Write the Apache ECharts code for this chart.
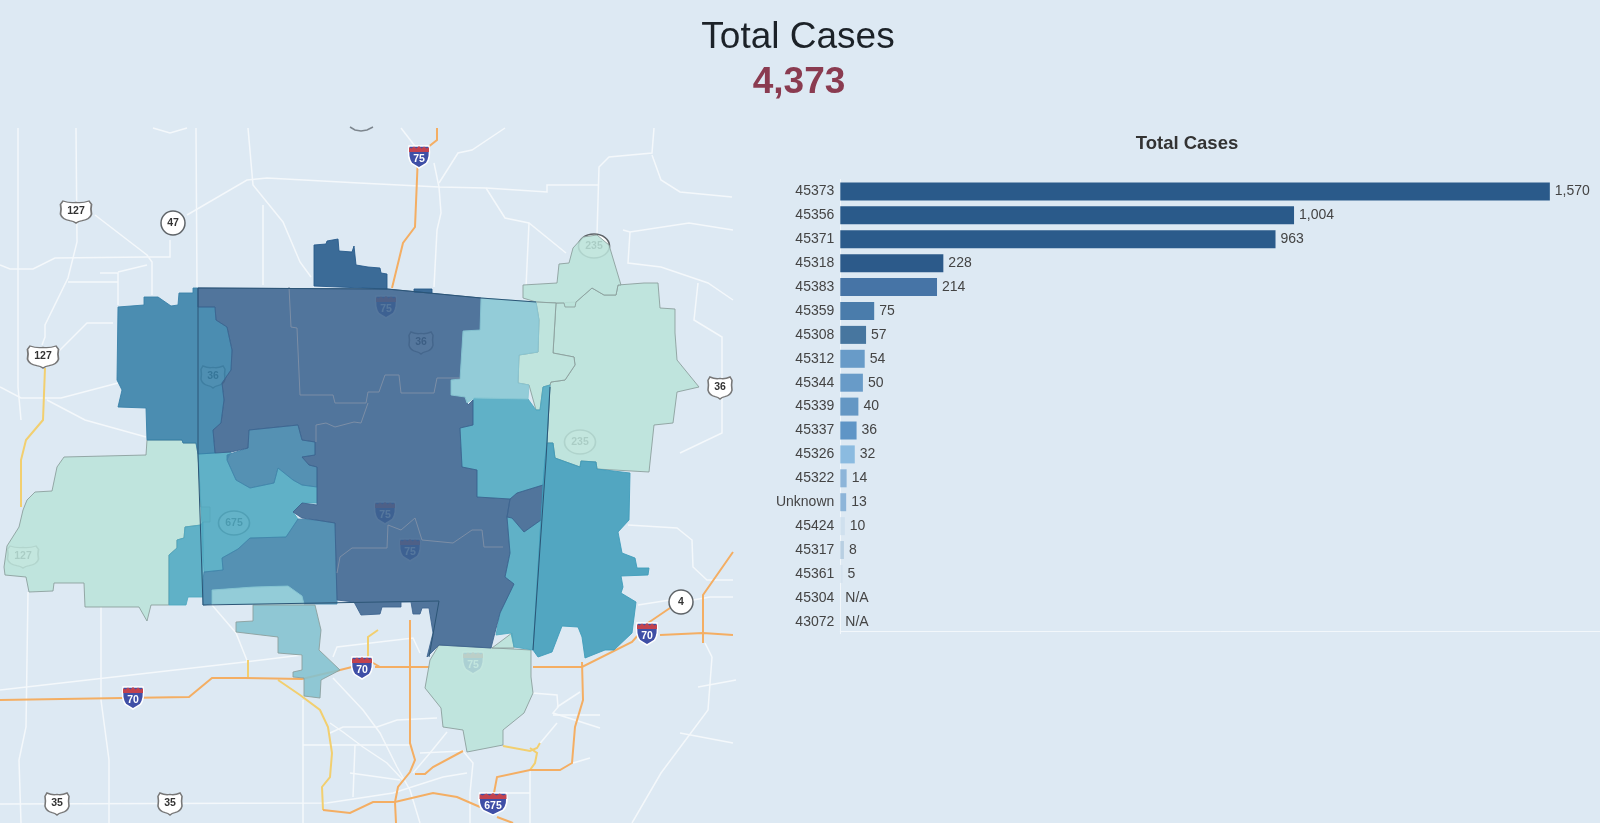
<!DOCTYPE html>
<html lang="en">
<head>
<meta charset="utf-8">
<title>Total Cases</title>
<script src="https://cdn.jsdelivr.net/npm/echarts@6/dist/echarts.min.js"></script>
<style>
    html, body { margin: 0; padding: 0; background: #dde9f3; }
    #chartMain { width: 1600px; height: 823px; }
</style>
</head>
<body>
<div id="chartMain"></div>
<script>
    // bar chart
    var zipCodes = ['45373','45356','45371','45318','45383','45359','45308','45312','45344','45339','45337','45326','45322','Unknown','45424','45317','45361','45304','43072'];
    var caseCounts = [1570,1004,963,228,214,75,57,54,50,40,36,32,14,13,10,8,5,null,null];
    var barColors = ['#2a5a8a','#2a5a8a','#2b5b8b','#2c5a8a','#4674a6','#4a7cab','#47769f','#689bc8','#689bc8','#6497c4','#5f95c6','#8bbbe0','#8db5d9','#8db5d9','#cfe0ee','#b8cfe2','#d5e3ef','#dde9f3','#dde9f3'];
    var totalCases = '4,373';

    // zip outlines in map units
    var westBig = [[64,457],[146,455],[147,440],[182,440],[183,443],[196,443],[198,454],[201,507],[210,507],[210,522],[203,522],[201,525],[185,527],[184,538],[177,540],[177,548],[169,555],[169,605],[151,605],[147,621],[139,607],[85,607],[84,583],[54,583],[53,591],[29,592],[26,577],[5,575],[4,567],[7,546],[19,527],[23,510],[27,500],[35,492],[52,491],[57,467]];
    var westTeal = [[201,525],[185,527],[184,538],[177,540],[177,548],[169,555],[169,605],[186,605],[188,597],[203,597],[203,522]];
    var westBlue = [[118,307],[144,305],[144,297],[158,297],[171,306],[178,305],[179,293],[193,293],[193,288],[198,288],[198,307],[215,307],[216,320],[227,327],[232,350],[231,370],[222,383],[224,400],[221,423],[213,430],[215,453],[198,454],[196,443],[183,443],[182,440],[147,440],[146,408],[118,407],[122,390],[117,380]];
    var northTab = [[314,245],[326,244],[327,241],[338,239],[339,251],[352,252],[354,246],[356,265],[368,267],[369,268],[380,268],[381,273],[387,274],[387,289],[314,286]];
    var northTabSmall = [[414,289],[432,289],[432,293],[414,292]];
    var mainDark = [[198,288],[387,289],[481,298],[480,330],[463,331],[460,379],[451,380],[451,395],[465,397],[468,405],[473,400],[473,425],[460,428],[462,467],[477,470],[477,497],[510,499],[507,517],[510,553],[505,577],[514,584],[500,613],[491,648],[439,645],[427,657],[433,633],[429,608],[422,608],[420,614],[413,614],[411,602],[401,602],[401,607],[382,607],[380,614],[361,615],[354,602],[337,600],[335,523],[316,520],[302,518],[293,512],[302,503],[317,505],[317,467],[309,465],[302,457],[315,455],[315,442],[302,440],[298,425],[249,430],[248,448],[231,452],[215,453],[213,430],[221,423],[224,400],[222,383],[231,370],[232,350],[227,327],[216,320],[215,307],[198,307]];
    var darkSpot = [[510,499],[517,493],[543,485],[541,520],[524,532],[512,518],[507,517]];
    var midBlue = [[249,430],[298,425],[302,440],[315,442],[315,455],[302,457],[309,465],[317,467],[317,487],[302,485],[293,480],[278,468],[274,483],[250,488],[236,480],[227,460],[227,455],[248,448]];
    var innerTeal = [[198,454],[215,453],[231,452],[227,460],[236,480],[250,488],[274,483],[278,468],[293,480],[302,485],[317,487],[317,503],[302,503],[293,512],[298,519],[286,537],[250,538],[238,549],[222,558],[223,570],[204,572],[202,527]];
    var southBlue = [[223,570],[222,558],[238,549],[250,538],[286,537],[298,519],[316,520],[335,523],[337,604],[304,604],[302,596],[288,586],[253,587],[212,590],[212,604],[203,605],[203,580],[204,572]];
    var boxLight = [[212,590],[253,587],[288,586],[302,596],[304,604],[212,604]];
    var southLight = [[253,605],[315,605],[321,630],[319,650],[340,670],[321,680],[320,698],[304,696],[304,678],[293,677],[293,672],[302,670],[302,655],[278,653],[278,637],[236,632],[236,622],[253,621]];
    var northEast = [[481,298],[536,302],[539,320],[538,352],[519,355],[518,383],[529,385],[528,399],[474,398],[467,403],[465,397],[451,395],[451,380],[460,379],[463,331],[480,330]];
    var eastTeal = [[474,398],[528,399],[536,410],[540,410],[543,387],[550,385],[547,443],[545,460],[543,485],[517,493],[510,499],[477,497],[477,470],[462,467],[460,428],[473,425],[473,400]];
    var lightStrip = [[536,302],[556,303],[553,353],[574,357],[575,365],[565,380],[551,382],[550,385],[543,387],[540,410],[536,410],[529,385],[518,383],[519,355],[538,352],[539,320]];
    var eastBig = [[556,303],[576,302],[592,288],[604,295],[616,295],[618,285],[644,283],[658,283],[660,308],[675,309],[675,333],[677,360],[699,387],[677,392],[673,423],[654,425],[649,472],[597,469],[596,462],[581,461],[580,467],[555,458],[553,443],[547,443],[550,385],[551,382],[565,380],[575,365],[574,357],[553,353]];
    var northLight = [[523,285],[557,283],[559,264],[569,263],[573,248],[583,237],[597,235],[609,245],[621,285],[618,285],[616,295],[604,295],[592,288],[576,302],[575,307],[565,307],[564,303],[556,303],[536,302],[523,298]];
    var farEast = [[547,443],[553,443],[555,458],[580,467],[581,461],[596,462],[597,469],[630,473],[629,520],[618,532],[622,553],[635,558],[637,568],[649,568],[648,575],[621,576],[623,587],[621,593],[636,602],[632,633],[614,650],[605,650],[585,658],[582,637],[578,627],[562,626],[552,652],[538,657],[533,650],[541,520],[543,485],[545,460]];
    var seTeal = [[512,518],[524,532],[541,520],[533,650],[514,647],[511,633],[496,635],[500,613],[514,584],[505,577],[510,553],[507,517]];
    var seSpot = [[492,648],[512,633],[514,648]];
    var bottomGreen = [[439,645],[531,650],[531,677],[533,693],[524,713],[503,730],[503,745],[467,752],[463,730],[443,727],[441,708],[425,688],[430,660]];

    // roads
    var whiteRoads = [
        [[76,128],[77,242],[68,278],[45,325],[45,337],[42,345]],
        [[18,128],[18,387],[21,420]],
        [[196,128],[197,288]],
        [[248,128],[253,185],[283,222],[300,262],[311,277]],
        [[187,215],[247,180],[267,178],[359,183],[439,187],[486,188],[547,192],[547,185],[599,185]],
        [[153,128],[170,133],[187,128]],
        [[654,128],[652,153],[609,157],[599,167],[597,235]],
        [[652,155],[661,180],[680,192],[732,197]],
        [[434,163],[439,187],[441,213],[437,230],[434,287]],
        [[439,183],[458,153],[472,150],[505,128]],
        [[401,128],[418,150]],
        [[486,188],[505,218],[529,223],[566,253]],
        [[529,223],[526,287]],
        [[263,205],[263,285]],
        [[0,265],[10,269],[33,269],[55,258],[148,257],[170,257],[170,240]],
        [[95,215],[147,255],[152,262],[152,295]],
        [[100,273],[118,273],[118,305]],
        [[68,282],[118,282]],
        [[118,272],[147,265]],
        [[0,387],[21,398],[61,398],[118,383]],
        [[47,400],[85,420],[146,437]],
        [[113,323],[87,323],[55,355]],
        [[623,230],[630,232],[689,223],[733,230]],
        [[630,232],[628,263],[661,267],[708,283],[733,300]],
        [[698,283],[694,320],[722,337],[722,433],[680,453]],
        [[0,690],[245,662],[302,655]],
        [[212,605],[236,633],[248,663]],
        [[28,592],[26,727],[19,760],[21,823]],
        [[101,607],[101,700],[109,760],[109,823]],
        [[0,804],[327,803],[393,793],[443,777],[467,773]],
        [[333,657],[337,647],[413,638],[420,653]],
        [[333,678],[363,710],[380,733],[397,767],[410,790],[420,823]],
        [[330,723],[343,732],[363,747],[387,763],[403,780]],
        [[330,733],[343,727],[377,727],[397,720],[437,718]],
        [[303,745],[410,745]],
        [[355,745],[353,797]],
        [[303,700],[303,823]],
        [[350,773],[400,780]],
        [[447,732],[430,753],[413,773]],
        [[420,753],[463,751],[473,763],[470,793],[470,823]],
        [[503,793],[530,793]],
        [[530,770],[530,823]],
        [[532,693],[557,695],[558,707],[553,713],[600,728]],
        [[580,692],[557,707]],
        [[557,723],[537,747]],
        [[573,763],[590,758]],
        [[553,715],[600,715]],
        [[712,657],[708,710],[661,773],[632,823]],
        [[705,643],[712,657]],
        [[736,680],[698,687]],
        [[680,733],[733,743]],
        [[628,525],[677,528],[692,540],[693,567],[707,580],[733,580]],
        [[638,605],[670,600]],
        [[693,600],[710,597],[733,597]]
    ];
    var orangeRoads = [
        [[437,128],[437,140],[418,155],[415,227],[403,243],[392,288]],
        [[0,700],[123,698],[189,697],[212,678],[245,678],[302,679],[340,670],[352,667]],
        [[375,667],[430,667]],
        [[533,667],[582,667],[632,642],[640,633]],
        [[660,635],[703,633],[733,635]],
        [[645,625],[670,608]],
        [[703,643],[703,595],[733,552]],
        [[410,620],[410,743],[415,760],[410,772],[398,787],[395,802],[396,823]],
        [[323,810],[350,813],[373,802],[395,802],[433,793],[457,797],[480,807]],
        [[582,662],[583,700],[575,727],[572,763],[560,770],[530,770],[497,777],[494,793]],
        [[463,751],[433,767],[425,774],[415,774]],
        [[497,817],[513,823]],
        [[368,660],[380,667]]
    ];
    var yellowRoads = [
        [[45,368],[43,420],[26,440],[21,460],[21,507]],
        [[278,680],[300,695],[320,710],[328,727],[332,753],[330,777],[322,787],[323,810]],
        [[503,746],[530,751],[537,748],[540,743]],
        [[530,748],[537,753],[535,763],[530,770]],
        [[368,660],[368,637],[378,630]],
        [[248,660],[248,678]]
    ];
    var topArc = [[350,127],[355,130],[361,131],[367,130],[373,127]];

    // lines on top of the fills
    var innerBounds = [
        [[289,287],[291,327],[297,328],[300,395],[333,395],[335,403],[366,403],[368,392],[379,392],[385,375],[399,375],[401,393],[434,393],[437,378],[460,378]],
        [[316,442],[316,425],[326,423],[335,427],[354,422],[361,423],[368,403]],
        [[337,573],[340,557],[352,548],[387,548],[388,525],[401,530],[415,518],[422,540],[453,543],[472,530],[482,530],[484,547],[503,547]]
    ];
    var countyLines = [
        [[429,657],[439,601],[203,605],[198,454],[198,288],[387,289],[481,298],[536,302]],
        [[550,387],[546,460],[533,650]]
    ];

    // route markers
    var interstates = [['75',419,157],['70',133,698],['70',362,668],['70',647,634],['675',493,804],['75',386,307],['75',385,513],['75',410,550],['75',473,663]];
    var usRoutes = [['127',76,212],['127',43,357],['36',720,388],['35',57,804],['35',170,804],['36',421,343],['36',213,377],['127',23,557]];
    var stateRoutes = [['47',173,223],['4',681,602],['235',594,246],['235',580,442],['675',234,523]];

    var regionGroups = [
        { color: '#bbe2d9', border: '#8b9e9c', outlines: [westBig, eastBig, northLight, lightStrip, bottomGreen, seSpot] },
        { color: '#4ea8c0', border: '#4ea8c0', outlines: [westTeal, innerTeal, eastTeal, seTeal] },
        { color: '#377fa7', border: '#377fa7', outlines: [westBlue] },
        { color: '#4284aa', border: '#4284aa', outlines: [midBlue, southBlue] },
        { color: '#3d6490', border: '#3d6490', outlines: [mainDark, darkSpot] },
        { color: '#24598a', border: '#24598a', outlines: [northTab, northTabSmall] },
        { color: '#89c7d4', border: '#89c7d4', outlines: [northEast, boxLight] },
        { color: '#84c2cf', border: '#8b9e9c', outlines: [southLight] },
        { color: '#3f9cba', border: '#3f9cba', outlines: [farEast] }
    ];

    var features = [];
    var regionStyles = [];
    regionGroups.forEach(function (group, g) {
        group.outlines.forEach(function (ring, i) {
            var name = 'zip' + g + '_' + i;
            features.push({
                type: 'Feature',
                properties: { name: name },
                geometry: { type: 'Polygon', coordinates: [ring.concat([ring[0]])] }
            });
            regionStyles.push({ name: name, itemStyle: { areaColor: group.color, borderColor: group.border, borderWidth: 1, opacity: 0.88 } });
        });
    });
    echarts.registerMap('zips', { type: 'FeatureCollection', features: features });

    function roadSeries(list, color, width, z) {
        return {
            type: 'lines',
            coordinateSystem: 'geo',
            polyline: true,
            silent: true,
            z: z,
            lineStyle: { color: color, width: width, opacity: 1 },
            data: list.map(function (path) { return { coords: path }; })
        };
    }

    function markerSeries(list, symbol, size, fill, border, textColor, labelOffset) {
        return {
            type: 'scatter',
            coordinateSystem: 'geo',
            silent: true,
            z: 1,
            symbol: symbol,
            symbolSize: function (v) { return v[2].length > 2 ? [size[0] + 7, size[1]] : size; },
            itemStyle: { color: fill, borderColor: border, borderWidth: 1.5, opacity: 1 },
            label: {
                show: true,
                position: 'inside',
                offset: labelOffset,
                formatter: function (p) { return p.value[2]; },
                fontFamily: 'Liberation Sans',
                fontWeight: 'bold',
                fontSize: 10.5,
                color: textColor
            },
            data: list.map(function (m) { return { value: [m[1], m[2], m[0]] }; })
        };
    }

    // the red crown on top of an interstate shield
    function crownSeries(list) {
        return {
            type: 'scatter',
            coordinateSystem: 'geo',
            silent: true,
            z: 1,
            symbol: 'path://M0,100 L0,20 L12,40 L25,10 L37,40 L50,0 L63,40 L75,10 L88,40 L100,20 L100,100Z',
            symbolSize: function (v) { return v[2].length > 2 ? [27, 6] : [20, 6]; },
            symbolOffset: [0, -8],
            itemStyle: { color: '#c2434f', opacity: 1 },
            data: list.map(function (m) { return { value: [m[1], m[2], m[0]] }; })
        };
    }

    var usShield = 'path://M8,4 Q30,14 50,10 Q70,14 92,4 L100,18 Q96,40 100,60 Q95,82 70,88 Q58,90 50,98 Q42,90 30,88 Q5,82 0,60 Q4,40 0,18Z';
    var iShield = 'path://M4,4 L96,4 Q104,55 84,80 Q64,92 50,100 Q36,92 16,80 Q-4,55 4,4Z';

    var myChart = echarts.init(document.getElementById('chartMain'));
    myChart.setOption({
        animation: false,
        backgroundColor: '#dde9f3',
        title: [
            { text: 'Total Cases', left: 798, top: 38, padding: 0, textAlign: 'center', textVerticalAlign: 'middle',
              textStyle: { fontFamily: 'Liberation Sans', fontSize: 37, fontWeight: 'normal', color: '#1c2228' } },
            { text: totalCases, left: 799, top: 83, padding: 0, textAlign: 'center', textVerticalAlign: 'middle',
              textStyle: { fontFamily: 'Liberation Sans', fontSize: 37, fontWeight: 'bold', color: '#8a3b50' } },
            { text: 'Total Cases', left: 1187, top: 144, padding: 0, textAlign: 'center', textVerticalAlign: 'middle',
              textStyle: { fontFamily: 'Liberation Sans', fontSize: 18.5, fontWeight: 'bold', color: '#333' } }
        ],
        geo: {
            map: 'zips',
            z: 2,
            silent: true,
            roam: false,
            left: 0,
            top: 0,
            width: 1600,
            height: 823,
            aspectScale: 1,
            boundingCoords: [[0, 0], [1600, 823]],
            projection: {
                project: function (p) { return p; },
                unproject: function (p) { return p; }
            },
            label: { show: false },
            emphasis: { disabled: true },
            itemStyle: { areaColor: '#bbe2d9', borderColor: '#8b9e9c', borderWidth: 1 },
            regions: regionStyles
        },
        grid: { left: 840.3, top: 179.5, width: 759.7, height: 454.2 },
        xAxis: {
            type: 'value',
            min: 0,
            max: 1681,
            offset: -2.7,
            splitLine: { show: false },
            axisTick: { show: false },
            axisLabel: { show: false },
            axisLine: { show: true, lineStyle: { color: '#f2f7fb', width: 1 } }
        },
        yAxis: {
            type: 'category',
            inverse: true,
            data: zipCodes,
            axisTick: { show: false },
            axisLine: { show: true, lineStyle: { color: '#f2f7fb', width: 1 } },
            axisLabel: { margin: 6, fontFamily: 'Liberation Sans', fontSize: 14, color: '#444' }
        },
        series: [
            roadSeries(whiteRoads, '#f4f8fb', 1.5, 1),
            roadSeries(yellowRoads, '#f2cf6f', 2, 1),
            roadSeries(orangeRoads, '#f4ae63', 2, 1),
            roadSeries([topArc], '#7d868e', 1.5, 1),
            markerSeries(usRoutes, usShield, [24, 22], '#ffffff', '#777777', '#333333', [0, -1]),
            markerSeries(stateRoutes, 'circle', [24, 24], '#ffffff', '#5f6468', '#333333', [0, 0]),
            markerSeries(interstates, iShield, [21, 22], '#3f4fa6', '#ffffff', '#ffffff', [0, 2]),
            crownSeries(interstates),
            roadSeries(innerBounds, '#7c8ea6', 1, 4),
            roadSeries(countyLines, '#2c5576', 1, 4),
            {
                type: 'bar',
                barWidth: 18,
                data: caseCounts.map(function (v, i) {
                    return { value: v === null ? 0 : v, itemStyle: { color: barColors[i] } };
                }),
                label: {
                    show: true,
                    position: 'right',
                    distance: 5,
                    fontFamily: 'Liberation Sans',
                    fontSize: 14,
                    color: '#444',
                    formatter: function (p) {
                        var v = caseCounts[p.dataIndex];
                        return v === null ? 'N/A' : v.toLocaleString('en-US');
                    }
                }
            }
        ]
    });
</script>
</body>
</html>
